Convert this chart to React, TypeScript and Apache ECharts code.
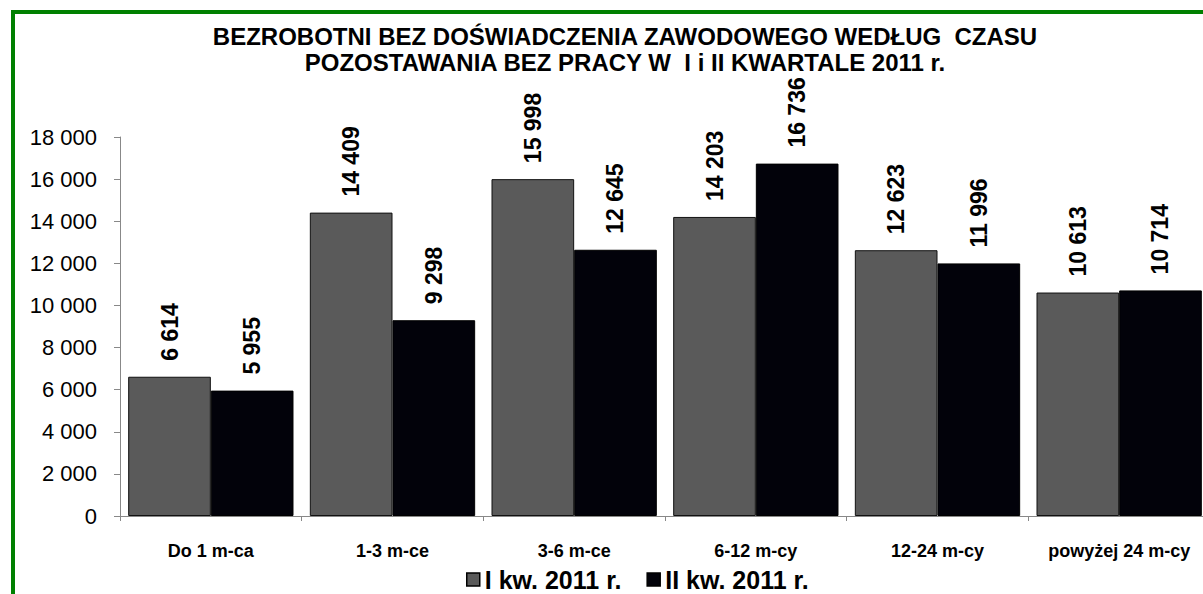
import React, { useEffect, useRef } from "react";
import * as echarts from "echarts";

const categories = ["Do 1 m-ca", "1-3 m-ce", "3-6 m-ce", "6-12 m-cy", "12-24 m-cy", "powyżej 24 m-cy"];
const seriesNames = ["I kw. 2011 r.", "II kw. 2011 r."];
const q1Values = [6614, 14409, 15998, 14203, 12623, 10613];
const q2Values = [5955, 9298, 12645, 16736, 11996, 10714];
const titleLines = [
  "BEZROBOTNI BEZ DOŚWIADCZENIA ZAWODOWEGO WEDŁUG  CZASU",
  "POZOSTAWANIA BEZ PRACY W  I i II KWARTALE 2011 r.",
];

const FONT = 'Arial, "Liberation Sans", sans-serif';
const fmt = (v: number) => String(v).replace(/\B(?=(\d{3})+(?!\d))/g, " ");

export default function App() {
  const ref = useRef<HTMLDivElement>(null);
  useEffect(() => {
    if (!ref.current) return;
    const chart = echarts.init(ref.current, undefined, { renderer: "svg" });
    const labelCfg = {
      show: true,
      position: "top",
      rotate: 90,
      align: "left",
      verticalAlign: "middle",
      distance: 16,
      fontFamily: FONT,
      fontWeight: "bold",
      fontSize: 23,
      color: "#000",
      formatter: (p: any) => fmt(p.value),
    };
    chart.setOption({
      animation: false,
      backgroundColor: "#fff",
      graphic: [
        {
          type: "rect",
          shape: { x: 13, y: 12, width: 1300, height: 700 },
          style: { fill: "none", stroke: "#008000", lineWidth: 4 },
          silent: true,
        },
        {
          type: "text",
          x: 625,
          y: 23,
          style: {
            text: titleLines.join("\n"),
            fontFamily: FONT,
            fontWeight: "bold",
            fontSize: 24,
            lineHeight: 26,
            textAlign: "center",
            textVerticalAlign: "top",
            fill: "#000",
          },
        },
      ],
      legend: {
        left: 466,
        top: 567,
        padding: 0,
        itemWidth: 13,
        itemHeight: 13,
        itemGap: 25,
        icon: "rect",
        itemStyle: { borderColor: "#000", borderWidth: 1.5 },
        textStyle: { fontFamily: FONT, fontWeight: "bold", fontSize: 25, color: "#000" },
        data: seriesNames,
      },
      grid: { left: 120, top: 137, width: 1090, height: 379, containLabel: false },
      xAxis: {
        type: "category",
        data: categories,
        axisLine: { lineStyle: { color: "#888", width: 1 } },
        axisTick: { show: true, interval: 0, length: 5, lineStyle: { color: "#888" } },
        axisLabel: {
          interval: 0,
          hideOverlap: false,
          fontFamily: FONT,
          fontWeight: "bold",
          fontSize: 18,
          color: "#000",
          margin: 26,
        },
      },
      yAxis: {
        type: "value",
        min: 0,
        max: 18000,
        interval: 2000,
        splitLine: { show: false },
        axisLine: { show: true, lineStyle: { color: "#888", width: 1 } },
        axisTick: { show: true, length: 6, lineStyle: { color: "#888" } },
        axisLabel: { fontFamily: FONT, fontSize: 22, color: "#000", margin: 23, formatter: (v: number) => fmt(v) },
      },
      series: [
        {
          name: seriesNames[0],
          type: "bar",
          data: q1Values,
          barGap: "0%",
          barCategoryGap: "9%",
          itemStyle: { color: "#5a5a5a", borderColor: "#111", borderWidth: 1 },
          label: labelCfg,
        },
        {
          name: seriesNames[1],
          type: "bar",
          data: q2Values,
          itemStyle: { color: "#02020a", borderColor: "#000", borderWidth: 1 },
          label: labelCfg,
        },
      ],
    });
    return () => chart.dispose();
  }, []);
  return (
    <div style={{ position: "absolute", left: 0, top: 0, width: 1203, height: 594, overflow: "hidden", background: "#fff" }}>
      <div ref={ref} style={{ width: 1240, height: 594 }} />
    </div>
  );
}
